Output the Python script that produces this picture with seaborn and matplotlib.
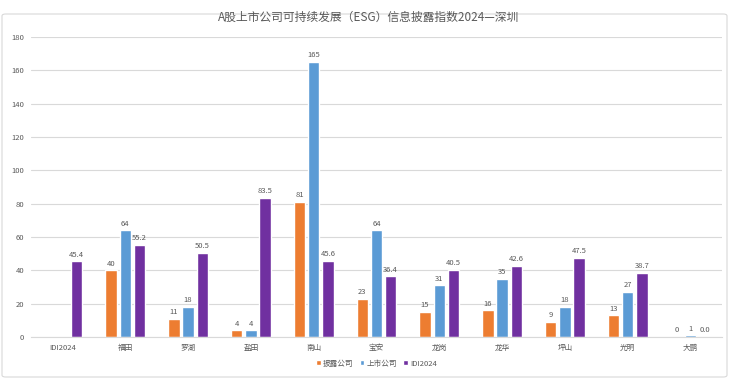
import matplotlib
matplotlib.use("Agg")
import matplotlib.pyplot as plt
import seaborn as sns
import pandas as pd
import numpy as np
from matplotlib.patches import FancyBboxPatch

categories = ["IDI2024", "福田", "罗湖", "盐田", "南山", "宝安", "龙岗", "龙华", "坪山", "光明", "大鹏"]
disclosed = [np.nan, 40, 11, 4, 81, 23, 15, 16, 9, 13, 0]
listed = [np.nan, 64, 18, 4, 165, 64, 31, 35, 18, 27, 1]
idi2024 = [45.4, 55.2, 50.5, 83.5, 45.6, 36.4, 40.5, 42.6, 47.5, 38.7, 0.0]
series_names = ["披露公司", "上市公司", "IDI2024"]
title = "A股上市公司可持续发展（ESG）信息披露指数2024—深圳"
yticks = [0, 20, 40, 60, 80, 100, 120, 140, 160, 180]

colors = ["#ED7D31", "#5B9BD5", "#7030A0"]

rows = []
for s, vals in zip(series_names, [disclosed, listed, idi2024]):
    for c, v in zip(categories, vals):
        rows.append({"区域": c, "系列": s, "值": v})
df = pd.DataFrame(rows)

sns.set_theme(style="white")
plt.rcParams["font.family"] = ["Noto Sans CJK SC", "DejaVu Sans"]

fig = plt.figure(figsize=(7.37, 3.84), dpi=100)
ax = fig.add_axes([31/737, 1 - 337/384, 691/737, 300/384])

sns.barplot(data=df, x="区域", y="值", hue="系列", order=categories,
            hue_order=series_names, palette=colors, width=0.68, gap=0.2,
            saturation=1, ax=ax, legend=True)

fmts = ["%g", "%g", "%.1f"]
for cont, f in zip(ax.containers, fmts):
    ax.bar_label(cont, fmt=f, padding=2, fontsize=5.5, color="#595959")

ax.set_xlim(-0.5, len(categories) - 0.5)
ax.set_ylim(0, 180)
ax.set_yticks(yticks)
ax.yaxis.grid(True, color="#D9D9D9", linewidth=0.8)
ax.set_axisbelow(True)
for sp in ["top", "right", "left"]:
    ax.spines[sp].set_visible(False)
ax.spines["bottom"].set_color("#D9D9D9")
ax.spines["bottom"].set_linewidth(0.8)
ax.tick_params(axis="both", length=0, labelsize=5.5, colors="#595959", pad=5)
ax.set_xlabel("")
ax.set_ylabel("")

leg = ax.legend(loc="upper center", bbox_to_anchor=(0.5, -0.065), ncol=3,
                frameon=False, fontsize=5.5, handlelength=0.6, handleheight=0.6,
                handletextpad=0.3, columnspacing=0.8, borderaxespad=0)
for t in leg.get_texts():
    t.set_color("#595959")

fig.text(0.5, 1 - 17/384, title, ha="center", va="center", fontsize=8.5, color="#595959")

border = FancyBboxPatch((2/737, 7/384), 725/737, 370/384 - 7/384 + 0.0,
                        boxstyle="round,pad=0,rounding_size=0.005",
                        transform=fig.transFigure, fill=False,
                        edgecolor="#D9D9D9", linewidth=0.8)
fig.patches.append(border)

fig.savefig("out.png", dpi=100)
